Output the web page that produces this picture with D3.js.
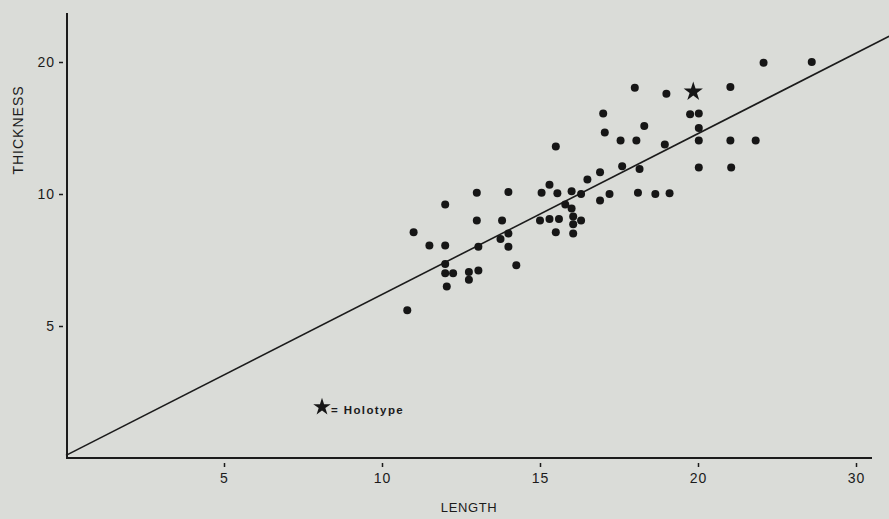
<!DOCTYPE html>
<html>
<head>
<meta charset="utf-8">
<script src="https://cdn.jsdelivr.net/npm/d3@7"></script>
<style>
  body { margin: 0; background: #dadcd8; }
  svg { display: block; }
  text { font-family: "Liberation Sans", Arial, sans-serif; fill: #1b1b1b; }
</style>
</head>
<body>
<div id="chart"></div>
<script>
// tick values as printed on the axes (equally spaced on the paper)
var xTicks = [0, 5, 10, 15, 20, 30];
var yTicks = [0, 5, 10, 20];

// specimens: length / thickness
var lengths = [10.8, 11.0, 11.5, 12.0, 12.0, 12.0, 12.0, 12.25, 12.05, 12.75, 12.75, 13.05,
    13.0, 13.0, 13.05, 14.0, 13.8, 13.75, 14.0, 14.0, 14.25, 15.05, 15.3, 15.55, 16.0,
    16.3, 16.5, 15.0, 15.3, 15.6, 15.5, 15.8, 16.0, 16.05, 16.05, 16.05, 16.3, 24.15,
    27.2, 18.0, 19.0, 22.05, 17.0, 19.75, 20.05, 17.05, 18.3, 20.05, 17.55, 18.05, 18.95,
    20.05, 22.05, 23.65, 16.9, 17.6, 18.15, 20.05, 22.1, 16.9, 17.2, 18.1, 18.65, 19.1, 15.5];
var thickness = [5.6, 8.55, 8.05, 9.6, 8.05, 7.35, 7.0, 7.0, 6.5, 7.05, 6.75, 7.1,
    10.1, 9.0, 8.0, 10.15, 9.0, 8.3, 8.5, 8.0, 7.3, 10.1, 10.7, 10.05, 10.2,
    10.0, 11.1, 9.0, 9.05, 9.05, 8.55, 9.6, 9.45, 9.15, 8.85, 8.5, 9.0, 19.95,
    20.0, 18.05, 17.6, 18.1, 16.1, 16.05, 16.1, 14.65, 15.15, 15.0, 14.05, 14.05, 13.75,
    14.05, 14.05, 14.05, 11.65, 12.1, 11.9, 12.0, 12.0, 9.75, 10.0, 10.1, 10.0, 10.05, 13.6];

var holotype = [19.85, 17.75];

// fitted line end points
var fitX = [0, 32.1];
var fitY = [0.1, 21.95];

var width = 889, height = 519;
var x0 = 66, xStep = 158, y0 = 458, yStep = 132;

var svg = d3.select("#chart").append("svg")
    .attr("width", width)
    .attr("height", height);

var x = d3.scaleLinear()
    .domain(xTicks)
    .range(xTicks.map(function(d, i) { return x0 + i * xStep; }));

var y = d3.scaleLinear()
    .domain(yTicks)
    .range(yTicks.map(function(d, i) { return y0 - i * yStep; }));

// axes
var xAxis = svg.append("g")
    .attr("transform", "translate(0," + y0 + ")")
    .call(d3.axisBottom(x).tickValues(xTicks.slice(1)).tickSize(9).tickPadding(6).tickSizeOuter(0));
xAxis.select(".domain").attr("d", "M" + x0 + ",0H" + 872);
xAxis.selectAll(".tick line").attr("y1", 5);
xAxis.selectAll(".tick text").attr("font-size", 14).attr("letter-spacing", 1);

var yAxis = svg.append("g")
    .attr("transform", "translate(" + (x0 + 1) + ",0)")
    .call(d3.axisLeft(y).tickValues(yTicks.slice(1)).tickSize(8).tickPadding(4).tickSizeOuter(0));
yAxis.select(".domain").attr("d", "M0," + y0 + "V13");
yAxis.selectAll(".tick line").attr("x1", -4);
yAxis.selectAll(".tick text").attr("font-size", 14).attr("letter-spacing", 1);

svg.selectAll(".domain").attr("stroke", "#1b1b1b").attr("stroke-width", 2);
svg.selectAll(".tick line").attr("stroke", "#1b1b1b").attr("stroke-width", 1.5);

// fitted line
svg.append("path")
    .datum(d3.zip(fitX, fitY))
    .attr("fill", "none")
    .attr("stroke", "#1b1b1b")
    .attr("stroke-width", 1.6)
    .attr("d", d3.line().x(function(d) { return x(d[0]); }).y(function(d) { return y(d[1]); }));

// specimens
svg.append("g").selectAll("circle")
    .data(d3.zip(lengths, thickness))
    .enter().append("circle")
    .attr("cx", function(d) { return x(d[0]); })
    .attr("cy", function(d) { return y(d[1]); })
    .attr("r", 4)
    .attr("fill", "#161616");

var star = d3.symbol().type(d3.symbolStar);

svg.append("path")
    .attr("d", star.size(115)())
    .attr("transform", "translate(" + x(holotype[0]) + "," + y(holotype[1]) + ")")
    .attr("fill", "#161616");

// key
svg.append("path")
    .attr("d", star.size(95)())
    .attr("transform", "translate(322,407)")
    .attr("fill", "#161616");
svg.append("text")
    .attr("x", 331)
    .attr("y", 414)
    .attr("font-size", 11.5)
    .attr("font-weight", "bold")
    .attr("letter-spacing", 1.4)
    .text("= Holotype");

// axis titles
svg.append("text")
    .attr("x", 469)
    .attr("y", 512)
    .attr("text-anchor", "middle")
    .attr("font-size", 13)
    .attr("letter-spacing", 0.6)
    .text("LENGTH");

svg.append("text")
    .attr("transform", "translate(23,130) rotate(-90)")
    .attr("text-anchor", "middle")
    .attr("font-size", 14)
    .attr("letter-spacing", 1)
    .text("THICKNESS");
</script>
</body>
</html>
